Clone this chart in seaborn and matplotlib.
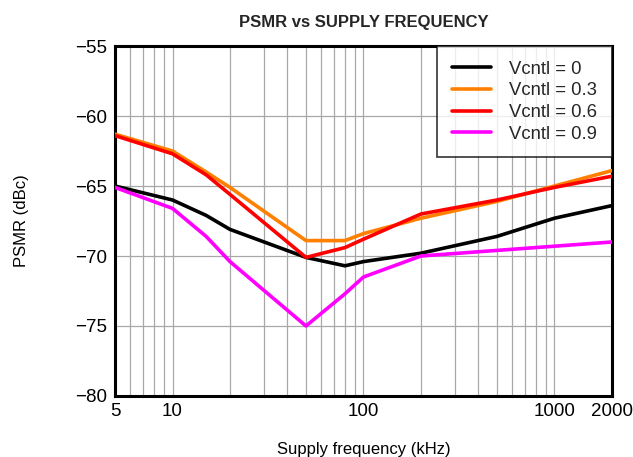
import numpy as np
import pandas as pd
import matplotlib
matplotlib.use("Agg")
import matplotlib.pyplot as plt
import matplotlib.ticker as mticker
import seaborn as sns

# Supply frequency (kHz) and PSMR (dBc) for each control voltage
freq_khz = [5, 10, 15, 20, 50, 80, 100, 200, 500, 1000, 2000]
psmr_v00 = [-65.0, -66.0, -67.1, -68.1, -70.1, -70.7, -70.4, -69.8, -68.6, -67.3, -66.4]
psmr_v03 = [-61.3, -62.5, -64.0, -65.1, -68.9, -68.9, -68.4, -67.3, -66.1, -65.0, -63.9]
psmr_v06 = [-61.4, -62.7, -64.2, -65.6, -70.1, -69.4, -68.8, -67.0, -66.0, -65.1, -64.3]
psmr_v09 = [-65.1, -66.6, -68.6, -70.4, -75.0, -72.7, -71.5, -70.0, -69.6, -69.3, -69.0]

series_names = ["Vcntl = 0", "Vcntl = 0.3", "Vcntl = 0.6", "Vcntl = 0.9"]
series_colors = ["#000000", "#FF8000", "#FF0000", "#FF00FF"]

x_tick_values = [5, 10, 100, 1000, 2000]
x_tick_labels = ["5", "10", "100", "1000", "2000"]
y_tick_values = [-80, -75, -70, -65, -60, -55]

frames = []
for name, vals in zip(series_names, [psmr_v00, psmr_v03, psmr_v06, psmr_v09]):
    frames.append(pd.DataFrame({"freq": freq_khz, "psmr": vals, "series": name}))
df = pd.concat(frames, ignore_index=True)

sns.set_theme(style="white")
plt.rcParams["font.family"] = ["Liberation Sans", "DejaVu Sans"]
plt.rcParams["axes.unicode_minus"] = True

fig = plt.figure(figsize=(6.33, 4.57), dpi=100)
ax = fig.add_axes([0.1817, 0.1335, 0.785, 0.7658])

sns.lineplot(data=df, x="freq", y="psmr", hue="series", hue_order=series_names,
             palette=series_colors, linewidth=2.6, ax=ax, zorder=3)

ax.set_xscale("log")
ax.set_xlim(5, 2000)
ax.set_ylim(-80, -55)

ax.xaxis.set_major_locator(mticker.FixedLocator(x_tick_values))
ax.xaxis.set_major_formatter(mticker.FixedFormatter(x_tick_labels))
minor = [m * d for d in (1, 10, 100) for m in range(2, 10)]
minor = [v for v in minor if 5 < v < 2000 and v not in x_tick_values]
ax.xaxis.set_minor_locator(mticker.FixedLocator(minor))
ax.xaxis.set_minor_formatter(mticker.NullFormatter())
ax.yaxis.set_major_locator(mticker.FixedLocator(y_tick_values))

ax.grid(True, which="both", axis="x", color="#a8a8a8", linewidth=0.9)
ax.grid(True, which="major", axis="y", color="#a8a8a8", linewidth=0.9)
ax.set_axisbelow(True)

ax.tick_params(axis="both", which="both", length=0, labelsize=13.5, colors="black")
ax.tick_params(axis="x", pad=5)
ax.tick_params(axis="y", pad=6)

for sp in ax.spines.values():
    sp.set_visible(True)
    sp.set_color("black")
    sp.set_linewidth(2.2)

ax.set_xlabel("Supply frequency (kHz)", fontsize=12, labelpad=16, color="black")
ax.set_ylabel("PSMR (dBc)", fontsize=12, labelpad=33, color="black")
ax.set_title("PSMR vs SUPPLY FREQUENCY", fontsize=12, fontweight="bold", pad=14)

leg = ax.legend(loc="upper right", fontsize=13.3, frameon=True, fancybox=False,
                borderaxespad=0.0, handlelength=2.1, handletextpad=1.0,
                borderpad=0.8, labelspacing=0.25)
leg.get_frame().set_edgecolor("black")
leg.get_frame().set_linewidth(1.2)
leg.set_title(None)
for line in leg.get_lines():
    line.set_linewidth(2.6)

fig.savefig("out.png", dpi=100)
